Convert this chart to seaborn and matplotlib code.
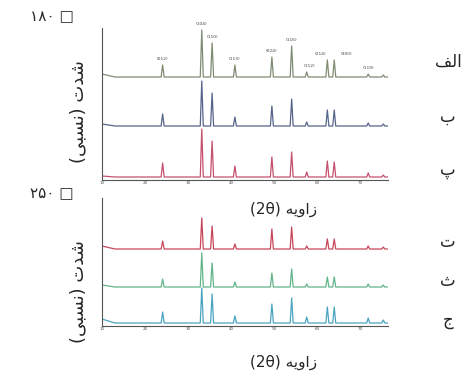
import matplotlib
matplotlib.use('Agg')
import matplotlib.pyplot as plt
import seaborn as sns

# peak positions (2theta) and hkl labels
peak_pos = [24.1, 33.2, 35.6, 40.9, 49.5, 54.1, 57.6, 62.4, 64.0, 71.9, 75.4]
peak_labels = ['(012)', '(104)', '(110)', '(113)', '(024)', '(116)', '(112)', '(214)', '(300)', '(119)', '']
label_dx = [0, 0, 0, 0, 0, 0, 2, -5, 9, 0, 0]

# 180 C samples (top panel): baseline, low-angle background and peak heights
top_names = ['الف', 'ب', 'پ']
top_base = [103, 54, 3]
top_start = [3, 2, 1]
top_heights = [
    [12, 47, 34, 12, 20, 31, 5, 17, 17, 3, 2],
    [12, 45, 33, 9, 20, 27, 4, 16, 16, 3, 2],
    [14, 48, 36, 11, 20, 25, 5, 16, 15, 4, 2],
]
top_colors = ['#7f8c74', '#56648a', '#c4506e']

# 250 C samples (bottom panel)
bot_names = ['ت', 'ث', 'ج']
bot_base = [77, 39, 3]
bot_start = [3, 2, 4]
bot_heights = [
    [8, 31, 23, 5, 20, 22, 3, 10, 10, 3, 2],
    [8, 34, 24, 5, 14, 18, 3, 10, 10, 3, 2],
    [11, 35, 29, 7, 19, 25, 6, 16, 16, 5, 3],
]
bot_colors = ['#c8465a', '#62b48a', '#4aa4c0']

x_start, x_knee, x_end = 10, 13, 76.5
half_w = 0.35

# minimal Persian shaping (matplotlib has no RTL layout)
forms = {
    'ا': 'ﺍﺎ', 'د': 'ﺩﺪ', 'ز': 'ﺯﺰ', 'و': 'ﻭﻮ',
    'ب': 'ﺏﺐﺑﺒ', 'پ': 'ﭖﭗﭘﭙ', 'ت': 'ﺕﺖﺗﺘ', 'ث': 'ﺙﺚﺛﺜ',
    'ج': 'ﺝﺞﺟﺠ', 'س': 'ﺱﺲﺳﺴ', 'ش': 'ﺵﺶﺷﺸ', 'ف': 'ﻑﻒﻓﻔ',
    'ل': 'ﻝﻞﻟﻠ', 'ن': 'ﻥﻦﻧﻨ', 'ه': 'ﻩﻪﻫﻬ', 'ی': 'ﯼﯽﯾﯿ',
}


def shape_word(w):
    out = []
    for i, c in enumerate(w):
        if c not in forms:
            out.append(c)
            continue
        prev = w[i - 1] if i > 0 else ''
        nxt = w[i + 1] if i + 1 < len(w) else ''
        join_prev = prev in forms and len(forms[prev]) == 4
        join_next = nxt in forms and len(forms[c]) == 4
        f = forms[c]
        if join_prev and join_next:
            out.append(f[3])
        elif join_prev:
            out.append(f[1])
        elif join_next:
            out.append(f[2])
        else:
            out.append(f[0])
    s = ''.join(out)[::-1]
    return s.translate(str.maketrans('()', ')('))


def fa(text):
    words = []
    for w in text.split(' '):
        if any(c in forms for c in w):
            words.append(shape_word(w))
        else:
            words.append(w)
    return ' '.join(words[::-1])


def trace(base, start, heights):
    xs, ys = [x_start, x_knee], [base + start, base]
    for p, h in zip(peak_pos, heights):
        xs += [p - half_w, p, p + half_w]
        ys += [base, base + h, base]
    xs.append(x_end)
    ys.append(base)
    return xs, ys


sns.set_style('white')
plt.rcParams['font.family'] = ['DejaVu Sans']

W, H = 465, 378
fig = plt.figure(figsize=(4.65, 3.78), dpi=100)
ax1 = fig.add_axes([102 / W, 1 - 180 / H, 286 / W, 152 / H])
ax2 = fig.add_axes([102 / W, 1 - 326 / H, 286 / W, 128 / H])

for ax, bases, starts, heights, colors, ymax in [
        (ax1, top_base, top_start, top_heights, top_colors, 152),
        (ax2, bot_base, bot_start, bot_heights, bot_colors, 128)]:
    for b, s, hs, c in zip(bases, starts, heights, colors):
        xs, ys = trace(b, s, hs)
        sns.lineplot(x=xs, y=ys, ax=ax, color=c, linewidth=0.9,
                     sort=False, estimator=None)
    ax.set_xlim(x_start, x_end)
    ax.set_ylim(0, ymax)
    ax.set_xticks([10, 20, 30, 40, 50, 60, 70])
    ax.set_xticklabels(['10', '20', '30', '40', '50', '60', '70'], fontsize=3, color='#555555')
    ax.set_yticks([b + 24 for b in bases])
    ax.set_yticklabels([])
    ax.tick_params(axis='both', direction='in', length=2, width=0.5, pad=1, colors='#555555')
    sns.despine(ax=ax)
    for side in ['left', 'bottom']:
        ax.spines[side].set_color('#555555')
        ax.spines[side].set_linewidth(0.8)

# hkl labels over the top trace
for p, h, lab, dx in zip(peak_pos, top_heights[0], peak_labels, label_dx):
    if lab:
        ax1.annotate(lab, (p, top_base[0] + h), xytext=(dx, 3), textcoords='offset points',
                     ha='center', va='bottom', fontsize=3.2, color='#444444',
                     annotation_clip=False)


def ftext(x, y, s, **kw):
    fig.text(x / W, 1 - y / H, s, ha='center', va='center', **kw)


ftext(52, 17, '۱۸۰ □', fontsize=11)
ftext(52, 193, '۲۵۰ □', fontsize=11)
ftext(78, 112, fa('شدت (نسبی)'), fontsize=13, rotation=90)
ftext(78, 292, fa('شدت (نسبی)'), fontsize=13, rotation=90)
ftext(283, 209, fa('زاویه (2θ)'), fontsize=11)
ftext(283, 362, fa('زاویه (2θ)'), fontsize=11)

for name, y in zip(top_names + bot_names, [62, 117, 170, 242, 281, 320]):
    ftext(448, y, fa(name), fontsize=12)

fig.savefig('out.png', dpi=100)
